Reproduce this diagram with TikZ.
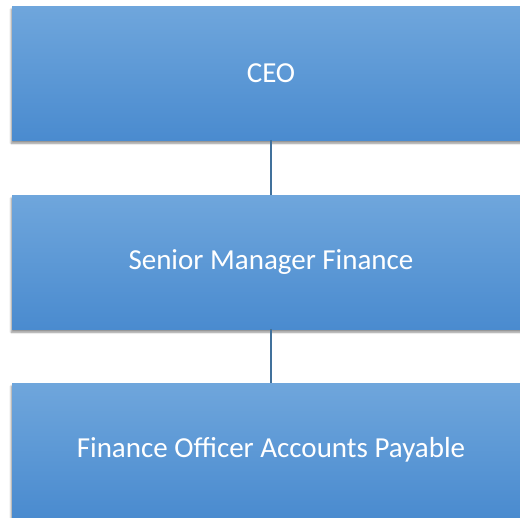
\documentclass[tikz,border=0pt]{standalone}
\usepackage{fontspec}
\setmainfont{Carlito}
\usetikzlibrary{shadows.blur}
\definecolor{boxtop}{HTML}{6FA6DC}
\definecolor{boxbot}{HTML}{4A8BCF}
\definecolor{linkc}{HTML}{41719C}
\tikzset{
  orgbox/.style={minimum width=520pt, minimum height=134pt, anchor=north west,
    top color=boxtop, bottom color=boxbot, draw=none, inner sep=0pt,
    blur shadow={shadow xshift=-1pt, shadow yshift=-3pt, shadow blur steps=6, shadow blur extra rounding=0pt, shadow opacity=45}},
  orgtext/.style={text=white, font=\fontsize{29}{34}\selectfont},
  link/.style={draw=linkc, line width=2.6pt}
}
\begin{document}
\begin{tikzpicture}[x=1pt,y=-1pt]
\useasboundingbox (0,0) rectangle (520,518);
\clip (0,0) rectangle (520,518);
\node[orgbox] (b1) at (12,6) {};
\node[orgbox] (b2) at (12,195) {};
\node[orgbox] (b3) at (12,383) {};
\coordinate (c1t) at (271,140);
\coordinate (c1b) at (271,195);
\coordinate (c2t) at (271,329);
\coordinate (c2b) at (271,383);
\draw[link] (c1t) -- (c1b);
\draw[link] (c2t) -- (c2b);
\node[orgtext] (t1) at (271,73) {CEO};
\node[orgtext] (t2) at (271,262) {Senior Manager Finance};
\node[orgtext] (t3) at (271,450) {Finance Officer Accounts Payable};
\end{tikzpicture}
\end{document}
